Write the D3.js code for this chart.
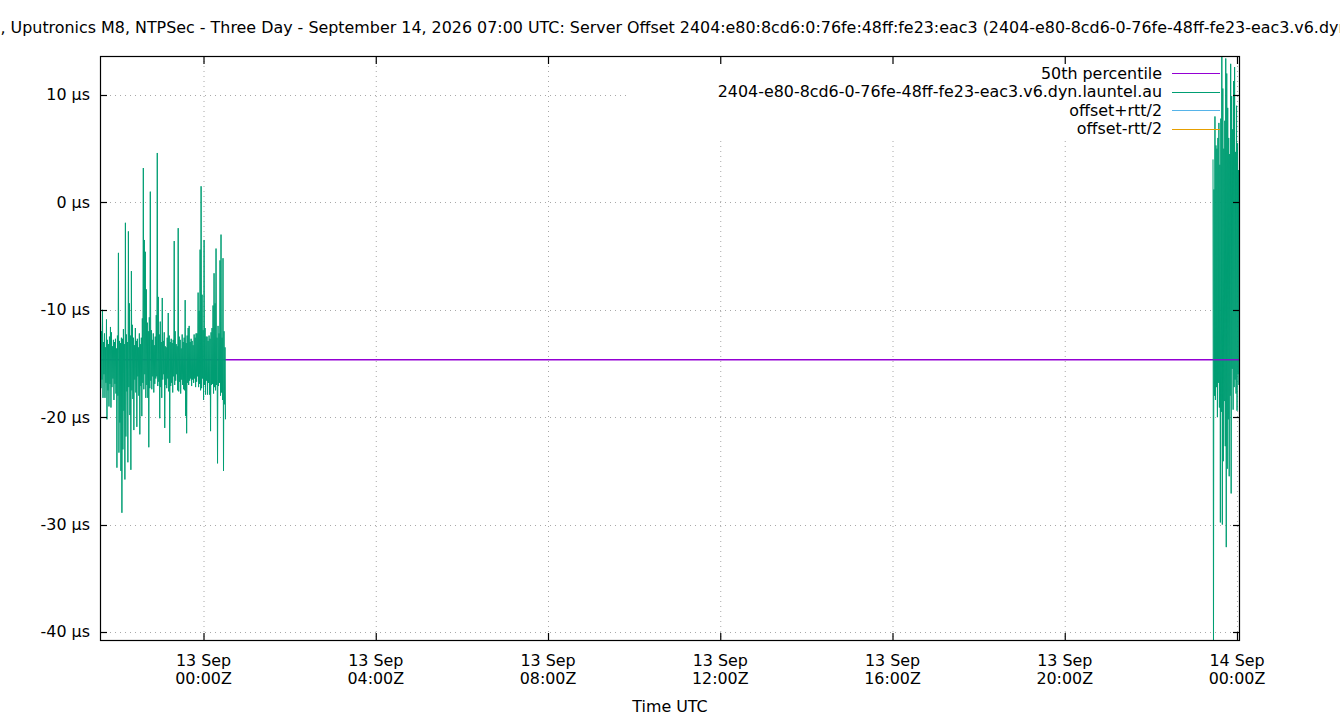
<!DOCTYPE html>
<html><head><meta charset="utf-8">
<script src="https://cdn.jsdelivr.net/npm/d3@7"></script>
<style>
body{margin:0;background:#fff;}
svg text{font-family:"DejaVu Sans",sans-serif;font-size:15.9px;fill:#000;}
</style></head><body>
<svg id="chart" width="1340" height="720"></svg>
<script>
// ---------------- data ----------------
const titleText = ", Uputronics M8, NTPSec - Three Day - September 14, 2026 07:00 UTC: Server Offset 2404:e80:8cd6:0:76fe:48ff:fe23:eac3 (2404-e80-8cd6-0-76fe-48ff-fe23-eac3.v6.dyn.launtel.au)";
const xAxisLabel = "Time UTC";
const legendLabels = ["50th percentile", "2404-e80-8cd6-0-76fe-48ff-fe23-eac3.v6.dyn.launtel.au", "offset+rtt/2", "offset-rtt/2"];
const legendColors = ["#9400d3", "#009e73", "#56b4e9", "#e69f00"];
const yTickValues = [-40, -30, -20, -10, 0, 10];
const yTickUnit = " µs";
const yRange = [-40.84, 13.63];
const percentile50 = -14.65;
// sample time spans of the two recorded runs (UTC)
const runAStartEnd = ["2026-09-12T21:35:47Z", "2026-09-13T00:30:39Z"];
const runBStartEnd = ["2026-09-13T23:26:34Z", "2026-09-14T00:04:11Z"];
// server offset, microseconds
const offsetRunA = [
 -37.3,
 -10.6,-17.3, -12.0,-16.5, -10.0,-18.2, -13.0,-16.0, -12.2,-18.2, -13.5,-16.8, -10.9,-20.2, -12.8,-17.5,
 -13.2,-19.0, -12.5,-16.9, -11.6,-19.1, -12.1,-17.2, -13.4,-16.4, -12.8,-18.4, -13.0,-16.9, -12.7,-17.8,
 -13.6,-24.7, -12.4,-18.0, -4.7,-23.3, -12.9,-20.5, -13.1,-25.0, -12.6,-28.9, -12.7,-23.0, -11.8,-19.4,
 -13.2,-25.8, -1.9,-21.8, -12.3,-17.6, -13.0,-24.2, -2.7,-17.2, -9.4,-19.8, -12.4,-24.9, -6.4,-17.5,
 -11.4,-18.3, -12.6,-21.2, -13.3,-16.5, -11.7,-17.7, -12.9,-20.9, -12.7,-16.2, -13.5,-18.0, -12.2,-21.6,
 -13.2,-17.1, -12.6,-19.9, -10.8,-16.8, 3.2,-17.4, -3.5,-16.0, -4.6,-18.2, -8.1,-17.0, -11.2,-18.2,
 -12.0,-22.8, -10.7,-17.3, 1.0,-16.6, -11.9,-17.4, -12.8,-16.2, -12.2,-17.7, -13.3,-16.9, -12.5,-16.4,
 -10.5,-16.2, 4.6,-17.1, -8.8,-16.7, -12.3,-20.1, -11.1,-17.2, -13.0,-18.2, -8.9,-16.5, -12.9,-16.0,
 -12.1,-21.0, -13.4,-17.0, -13.5,-17.3, -12.6,-16.4, -10.3,-17.6, -12.4,-22.4, -13.0,-17.1, -12.7,-16.8,
 -13.1,-17.7, -12.8,-16.2, -3.6,-17.0, -12.0,-16.6, -13.2,-16.0, -13.4,-17.5, -2.4,-17.6, -12.5,-16.7,
 -12.8,-17.8, -13.6,-16.5, -12.3,-17.0, -13.0,-17.4, -12.6,-17.5, -9.1,-19.9, -13.1,-21.5, -12.4,-16.8,
 -11.7,-17.0, -11.5,-16.6, -13.0,-16.4, -12.7,-17.1, -12.9,-16.5, -13.3,-16.8, -12.3,-16.4, -12.6,-17.2,
 -12.2,-16.7, -12.2,-16.2, -8.4,-17.2, -10.1,-16.9, -4.4,-17.5, 1.5,-17.3, -8.6,-16.4, -11.9,-18.4,
 -3.5,-17.0, -11.7,-17.9, -12.5,-16.6, -12.5,-17.9, -12.9,-16.8, -12.4,-17.9, -12.7,-21.3, -12.1,-17.0,
 -11.7,-16.9, -9.6,-17.8, -6.6,-17.2, -9.4,-17.5, -4.3,-17.0, -12.6,-24.3, -11.5,-17.1, -12.2,-16.8,
 -5.4,-18.0, -3.0,-17.7, -12.6,-18.4, -5.2,-25.0, -12.0,-18.8, -13.5,-20.2
];
const offsetRunB = [
 4.0,-42.0, 1.2,-18.0, 8.0,-18.4, 5.3,-17.2, 5.0,-20.0, 6.0,-16.8, 7.4,-19.1, 3.5,-29.8,
 7.8,-19.5, 13.6,-30.0, 10.6,-24.1, 5.0,-18.5, 7.6,-22.7, 13.4,-32.1, 12.0,-24.8, 8.8,-20.2,
 6.0,-25.5, 4.5,-18.0, 12.9,-27.1, 9.9,-15.5, 6.8,-19.3, 11.3,-17.2, 12.6,-16.5, 4.7,-17.8,
 9.0,-19.4, 5.5,-16.0, 3.0,-17.0, 1.0,-14.5
];

// ---------------- layout ----------------
const plot = {left: 100, right: 1240, top: 56, bottom: 641};
const svg = d3.select("#chart");

function toPoints(values, span) {
  const t0 = new Date(span[0]), t1 = new Date(span[1]);
  const idx = d3.scaleLinear().domain([0, values.length - 1]).range([+t0, +t1]);
  return values.map((v, i) => ({t: new Date(idx(i)), v}));
}
const runA = toPoints(offsetRunA, runAStartEnd);
const runB = toPoints(offsetRunB, runBStartEnd);
const allT = runA.concat(runB).map(d => d.t);

const x = d3.scaleUtc().domain(d3.extent(allT)).range([plot.left, plot.right]);
const y = d3.scaleLinear().domain(yRange).range([plot.bottom, plot.top]);

svg.append("defs").append("clipPath").attr("id", "clip")
  .append("rect").attr("x", plot.left).attr("y", plot.top)
  .attr("width", plot.right - plot.left).attr("height", plot.bottom - plot.top);

const xTicks = x.ticks(d3.utcHour.every(4));

// grid
const grid = svg.append("g").attr("stroke", "#a8a8a8").attr("stroke-width", 1).attr("stroke-dasharray", "1,4");
grid.selectAll("line.gx").data(xTicks).join("line")
  .attr("x1", d => x(d) + 0.5).attr("x2", d => x(d) + 0.5)
  .attr("y1", plot.top).attr("y2", plot.bottom);
grid.selectAll("line.gy").data(yTickValues).join("line")
  .attr("x1", plot.left).attr("x2", plot.right)
  .attr("y1", d => Math.round(y(d)) + 0.5).attr("y2", d => Math.round(y(d)) + 0.5);

// opaque key background
svg.append("rect").attr("x", 630).attr("y", plot.top).attr("width", 592).attr("height", 84).attr("fill", "#fff");

const line = d3.line().x(d => x(d.t)).y(d => y(d.v));
const dataG = svg.append("g").attr("clip-path", "url(#clip)");

// 50th percentile
dataG.append("path").datum(x.domain().map(t => ({t, v: percentile50})))
  .attr("d", line).attr("fill", "none").attr("stroke", legendColors[0]).attr("stroke-width", 1.5);

// server offset
[runA, runB].forEach(run => {
  dataG.append("path").datum(run).attr("d", line)
    .attr("fill", "none").attr("stroke", legendColors[1]).attr("stroke-width", 1);
});
// percentile line shows through the second run
dataG.append("path").datum(d3.extent(runB, d => d.t).map(t => ({t, v: percentile50})))
  .attr("d", line).attr("fill", "none").attr("stroke", legendColors[0]).attr("stroke-width", 1.5)
  .attr("opacity", 0.85);

// border
svg.append("rect").attr("x", plot.left + 0.5).attr("y", plot.top + 0.5)
  .attr("width", plot.right - plot.left - 1).attr("height", plot.bottom - plot.top - 1)
  .attr("fill", "none").attr("stroke", "#000").attr("stroke-width", 1.2);

// ticks
const tk = svg.append("g").attr("stroke", "#000").attr("stroke-width", 1.2);
xTicks.forEach(d => {
  const px = x(d) + 0.5;
  tk.append("line").attr("x1", px).attr("x2", px).attr("y1", plot.bottom).attr("y2", plot.bottom - 8);
  tk.append("line").attr("x1", px).attr("x2", px).attr("y1", plot.top).attr("y2", plot.top + 8);
});
yTickValues.forEach(d => {
  const py = Math.round(y(d)) + 0.5;
  tk.append("line").attr("x1", plot.left).attr("x2", plot.left + 7).attr("y1", py).attr("y2", py);
  tk.append("line").attr("x1", plot.right).attr("x2", plot.right - 7).attr("y1", py).attr("y2", py);
});

// tick labels
const fmtDay = d3.utcFormat("%d %b"), fmtTime = d3.utcFormat("%H:%MZ");
const xl = svg.append("g").attr("text-anchor", "middle");
xTicks.forEach(d => {
  xl.append("text").attr("x", x(d)).attr("y", 666).text(fmtDay(d));
  xl.append("text").attr("x", x(d)).attr("y", 684).text(fmtTime(d));
});
const yl = svg.append("g").attr("text-anchor", "end");
yTickValues.forEach(d => {
  yl.append("text").attr("x", 90).attr("y", y(d) + 5.5).text(d + yTickUnit);
});

svg.append("text").attr("x", (plot.left + plot.right) / 2).attr("y", 712)
  .attr("text-anchor", "middle").text(xAxisLabel);

svg.append("text").attr("x", 0.5).attr("y", 33).attr("text-anchor", "start").text(titleText);

// legend
const rowY = [73, 91.5, 110, 128.5];
legendLabels.forEach((lab, i) => {
  svg.append("text").attr("x", 1162).attr("y", rowY[i] + 5.5).attr("text-anchor", "end").text(lab);
  svg.append("line").attr("x1", 1172).attr("x2", 1220).attr("y1", Math.round(rowY[i]) + 0.5).attr("y2", Math.round(rowY[i]) + 0.5)
    .attr("stroke", legendColors[i]).attr("stroke-width", 1.2);
});
</script>
</body></html>
